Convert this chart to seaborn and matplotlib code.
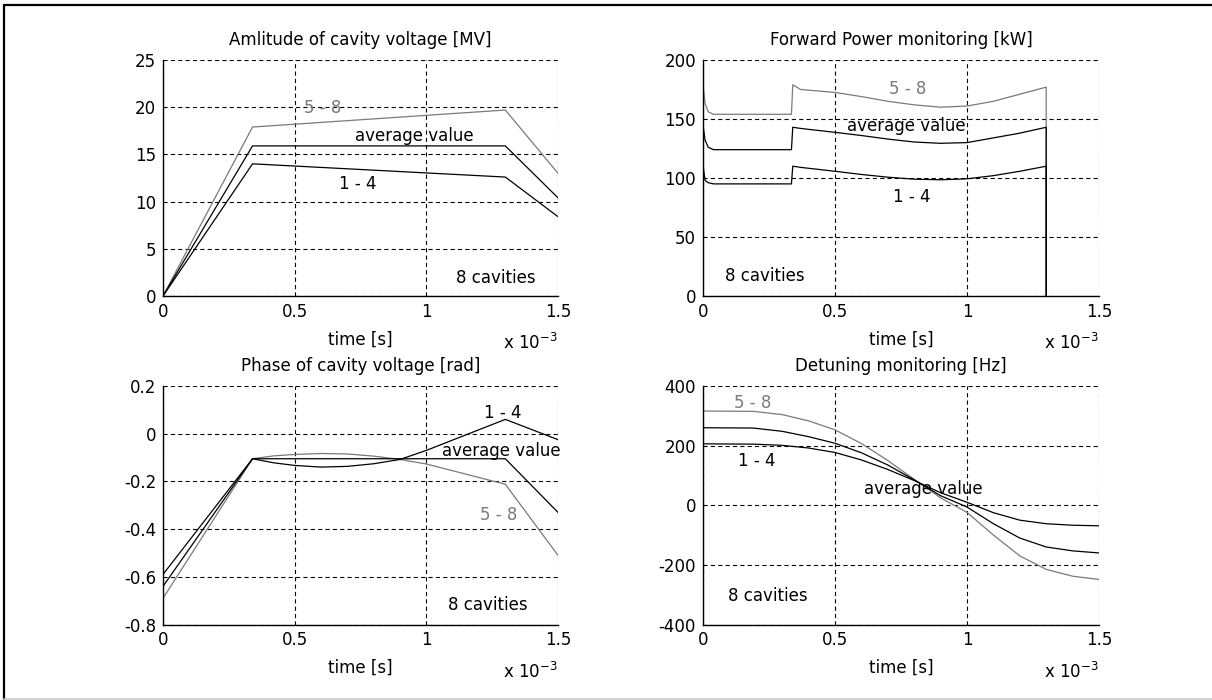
import numpy as np
import pandas as pd
import matplotlib
matplotlib.use("Agg")
import matplotlib.pyplot as plt
import seaborn as sns
from matplotlib.ticker import FuncFormatter
from matplotlib.lines import Line2D

# ---------------- data (time in units of 1e-3 s) ----------------
# Amplitude of cavity voltage [MV]
amp_t = [0, 0.34, 1.3, 1.5]
amp_58 = [0, 17.9, 19.7, 13.0]
amp_avg = [0, 15.9, 15.9, 10.4]
amp_14 = [0, 14.0, 12.6, 8.4]

# Forward power [kW]
fp_t = [0, 0.008, 0.02, 0.04, 0.335, 0.34, 0.37, 0.5, 0.6, 0.7, 0.8, 0.9, 1.0, 1.1, 1.2, 1.3, 1.3]
fp_58 = [179, 163, 156, 154, 154, 179, 175, 172.5, 169, 165, 162, 160, 161, 165, 171, 177, 0]
fp_avg = [145, 132, 126, 124, 124, 143, 142, 138.7, 136, 133, 130.5, 129.4, 130, 134, 138, 143, 0]
fp_14 = [110.5, 98, 96, 95, 95, 110, 109, 105.7, 103, 100.7, 99, 98.5, 99.3, 102, 105.7, 110, 0]

# Phase of cavity voltage [rad]
ph_t = [0, 0.34, 0.42, 0.5, 0.6, 0.7, 0.8, 0.9, 1.0, 1.3, 1.5]
ph_14 = [-0.59, -0.105, -0.122, -0.133, -0.14, -0.137, -0.126, -0.108, -0.07, 0.06, -0.025]
ph_avg = [-0.64, -0.105, -0.105, -0.105, -0.105, -0.105, -0.105, -0.105, -0.105, -0.105, -0.33]
ph_58 = [-0.69, -0.105, -0.093, -0.087, -0.083, -0.085, -0.094, -0.108, -0.127, -0.212, -0.51]

# Detuning [Hz]
dt_t = [0, 0.19, 0.3, 0.4, 0.5, 0.6, 0.7, 0.8, 0.9, 1.0, 1.1, 1.2, 1.3, 1.4, 1.5]
dt_58 = [316, 315, 304, 283, 253, 207, 150, 87, 25, -24, -100, -170, -215, -238, -249]
dt_avg = [260, 259, 248, 230, 208, 176, 135, 85, 32, -6, -62, -110, -140, -153, -160]
dt_14 = [206, 205, 201, 192, 177, 152, 120, 83, 42, 10, -25, -50, -62, -67, -69]

titles = ["Amlitude of cavity voltage [MV]", "Forward Power monitoring [kW]",
          "Phase of cavity voltage [rad]", "Detuning monitoring [Hz]"]
x_ticks = [0, 0.5, 1, 1.5]
y_ticks = [[0, 5, 10, 15, 20, 25], [0, 50, 100, 150, 200],
           [-0.8, -0.6, -0.4, -0.2, 0, 0.2], [-400, -200, 0, 200, 400]]
series_labels = ["5 - 8", "average value", "1 - 4"]

# ---------------- style ----------------
sns.set_theme(style="white")
plt.rcParams["font.family"] = ["DejaVu Sans"]
plt.rcParams["axes.unicode_minus"] = False
plt.rcParams["mathtext.default"] = "regular"
plt.rcParams["lines.scale_dashes"] = False

FS = 12
GRAY = "#7a7a7a"
LW = 0.9

fig = plt.figure(figsize=(12.12, 7.0), dpi=100)
fig.patch.set_facecolor("white")

W, H = 1212.0, 700.0
boxes = [(163, 558, 60, 296), (703, 1099, 60, 296),
         (163, 558, 386, 624.5), (703, 1099, 386, 624.5)]
axes = []
for (l, r, t, b) in boxes:
    axes.append(fig.add_axes([l / W, 1 - b / H, (r - l) / W, (b - t) / H]))

data = [
    (amp_t, [amp_58, amp_avg, amp_14]),
    (fp_t, [fp_58, fp_avg, fp_14]),
    (ph_t, [ph_58, ph_avg, ph_14]),
    (dt_t, [dt_58, dt_avg, dt_14]),
]
colors = [GRAY, "black", "black"]

fmt = FuncFormatter(lambda v, p: f"{v:g}")

for i, ax in enumerate(axes):
    t, ys = data[i]
    for y, c, lab in zip(ys, colors, series_labels):
        df = pd.DataFrame({"t": t, "v": y})
        sns.lineplot(data=df, x="t", y="v", ax=ax, color=c, linewidth=LW,
                     estimator=None, sort=False, legend=False)
    ax.set_xlim(0, 1.5)
    ax.set_ylim(y_ticks[i][0], y_ticks[i][-1])
    ax.set_xticks(x_ticks)
    ax.set_yticks(y_ticks[i])
    ax.xaxis.set_major_formatter(fmt)
    ax.yaxis.set_major_formatter(fmt)
    ax.grid(True, color="black", linestyle=(0, (3.0, 2.3)), linewidth=0.8)
    ax.set_axisbelow(True)
    for s in ["top", "right"]:
        ax.spines[s].set_visible(False)
    for s in ["left", "bottom"]:
        ax.spines[s].set_color("black")
        ax.spines[s].set_linewidth(1.0)
    ax.tick_params(axis="both", direction="in", length=3, width=0.8,
                   labelsize=FS, colors="black", pad=5)
    ax.tick_params(axis="x", pad=5)
    ax.set_title(titles[i], fontsize=FS, color="black", pad=11)
    ax.set_xlabel("time [s]", fontsize=FS, color="black", labelpad=7)
    ax.set_ylabel("")
    ax.text(1.0, -0.197, "x 10$^{-3}$", transform=ax.transAxes, ha="right",
            va="center", fontsize=FS, color="black")

# annotations
ann = [
    [("5 - 8", 0.605, 19.9, GRAY), ("average value", 0.955, 17.0, "black"),
     ("1 - 4", 0.74, 11.9, "black"), ("8 cavities", 1.265, 1.9, "black")],
    [("5 - 8", 0.775, 175, GRAY), ("average value", 0.77, 144, "black"),
     ("1 - 4", 0.79, 84, "black"), ("8 cavities", 0.235, 17, "black")],
    [("1 - 4", 1.29, 0.088, "black"), ("average value", 1.283, -0.072, "black"),
     ("5 - 8", 1.275, -0.342, GRAY), ("8 cavities", 1.235, -0.72, "black")],
    [("5 - 8", 0.19, 344, GRAY), ("1 - 4", 0.205, 147, "black"),
     ("average value", 0.835, 54, "black"), ("8 cavities", 0.245, -305, "black")],
]
for ax, items in zip(axes, ann):
    for txt, x, y, c in items:
        ax.text(x, y, txt, ha="center", va="center", fontsize=FS, color=c)

# figure border (top / left dark, bottom light)
fig.add_artist(Line2D([4 / W, 1.0], [1 - 5 / H, 1 - 5 / H], transform=fig.transFigure,
                      color="black", linewidth=1.6))
fig.add_artist(Line2D([4 / W, 4 / W], [1 - 5 / H, 1 - 699 / H], transform=fig.transFigure,
                      color="black", linewidth=1.6))
fig.add_artist(Line2D([4 / W, 1.0], [1 - 699 / H, 1 - 699 / H], transform=fig.transFigure,
                      color="#c8c8c8", linewidth=1.2))

fig.savefig("out.png", dpi=100, facecolor="white")
